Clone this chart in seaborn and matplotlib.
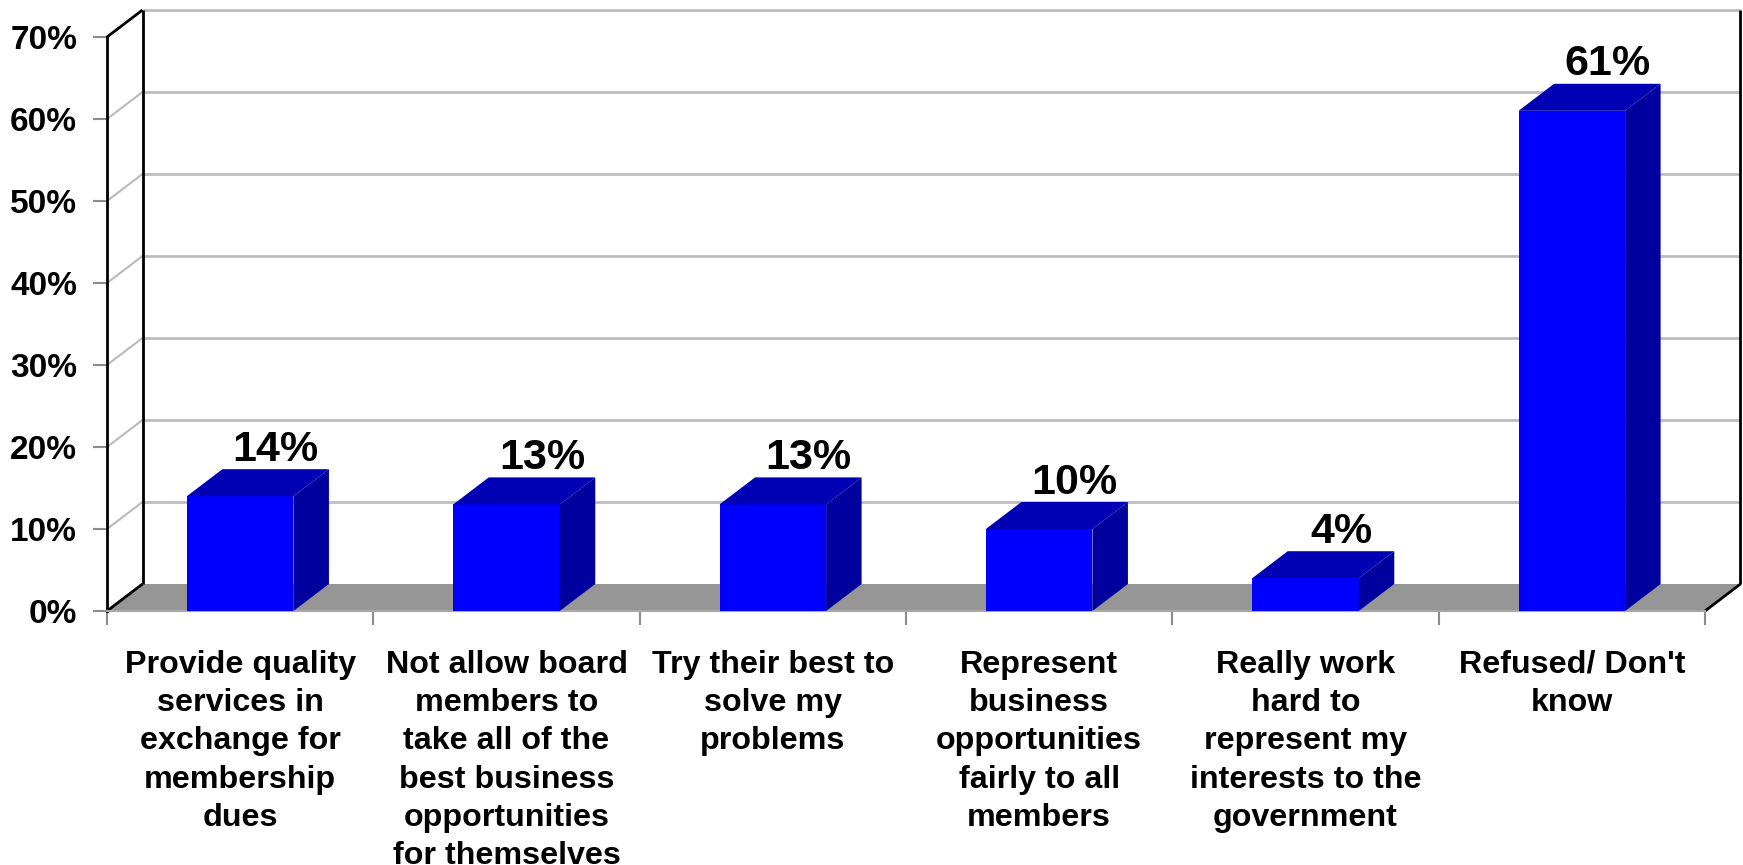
import matplotlib
matplotlib.use("Agg")
import matplotlib.pyplot as plt
from matplotlib.patches import Polygon
import pandas as pd
import seaborn as sns

# ---- data -------------------------------------------------------------
categories = [
    "Provide quality\nservices in\nexchange for\nmembership\ndues",
    "Not allow board\nmembers to\ntake all of the\nbest business\nopportunities\nfor themselves",
    "Try their best to\nsolve my\nproblems",
    "Represent\nbusiness\nopportunities\nfairly to all\nmembers",
    "Really work\nhard to\nrepresent my\ninterests to the\ngovernment",
    "Refused/ Don't\nknow",
]
values = [14, 13, 13, 10, 4, 61]
value_labels = ["14%", "13%", "13%", "10%", "4%", "61%"]
y_ticks = [0, 10, 20, 30, 40, 50, 60, 70]
y_tick_labels = ["0%", "10%", "20%", "30%", "40%", "50%", "60%", "70%"]

# ---- style ------------------------------------------------------------
sns.set_style("white")
plt.rcParams["font.family"] = ["Liberation Sans", "DejaVu Sans"]
plt.rcParams["font.weight"] = "bold"
plt.rcParams["text.color"] = "black"
plt.rcParams["xtick.labelcolor"] = "black"
plt.rcParams["ytick.labelcolor"] = "black"

FRONT = "#0000FF"
TOP = "#0000B4"
SIDE = "#00009E"
FLOOR = "#969696"
GRID = "#BDBDBD"

W, H, DPI = 1743, 865, 100
fig = plt.figure(figsize=(W / DPI, H / DPI), dpi=DPI)

# front plane of the 3-D box, in pixels of the figure
ax_left, ax_right, ax_top, ax_bottom = 107, 1705, 37, 611
ax = fig.add_axes([ax_left / W, (H - ax_bottom) / H,
                   (ax_right - ax_left) / W, (ax_bottom - ax_top) / H])

df = pd.DataFrame({"category": categories, "value": values})
sns.barplot(data=df, x="category", y="value", color=FRONT, saturation=1,
            width=0.4, linewidth=0, ax=ax, zorder=3)

n = len(categories)
ymax = y_ticks[-1]
ax.set_xlim(-0.5, n - 0.5)
ax.set_ylim(0, ymax)

# depth of the 3-D effect, converted from pixels into data units
depth_x_px, depth_y_px = 35.5, 27.0
DX = depth_x_px / ((ax_right - ax_left) / n)
DY = depth_y_px / ((ax_bottom - ax_top) / ymax)
x_lo, x_hi = -0.5, n - 0.5

line_kw = dict(clip_on=False, solid_capstyle="butt")

# back wall gridlines and their slanted continuation on the side wall
for t in y_ticks[1:]:
    ax.plot([x_lo + DX, x_hi + DX], [t + DY, t + DY], color=GRID, lw=2,
            zorder=0.5, **line_kw)
    ax.plot([x_lo, x_lo + DX], [t, t + DY],
            color="black" if t == ymax else GRID, lw=2 if t == ymax else 1.6,
            zorder=0.6, **line_kw)

# floor
ax.add_patch(Polygon([(x_lo, 0), (x_hi, 0), (x_hi + DX, DY), (x_lo + DX, DY)],
                     closed=True, facecolor=FLOOR, edgecolor="none",
                     zorder=1, clip_on=False))

# box edges
ax.plot([x_lo + DX, x_lo + DX], [DY, ymax + DY], color="black", lw=2, zorder=2, **line_kw)
ax.plot([x_lo, x_lo + DX], [0, DY], color="black", lw=2, zorder=2, **line_kw)
ax.plot([x_hi + DX, x_hi + DX], [DY, ymax + DY], color="black", lw=2, zorder=2, **line_kw)
ax.plot([x_hi, x_hi + DX], [0, DY], color="black", lw=2, zorder=2, **line_kw)

# top and side faces of each bar, plus its value label
for patch, lbl in zip(ax.patches, value_labels):
    x0, w, h = patch.get_x(), patch.get_width(), patch.get_height()
    ax.add_patch(Polygon([(x0, h), (x0 + w, h), (x0 + w + DX, h + DY), (x0 + DX, h + DY)],
                         closed=True, facecolor=TOP, edgecolor="none",
                         zorder=3, clip_on=False))
    ax.add_patch(Polygon([(x0 + w, 0), (x0 + w + DX, DY), (x0 + w + DX, h + DY), (x0 + w, h)],
                         closed=True, facecolor=SIDE, edgecolor="none",
                         zorder=3, clip_on=False))
    ax.annotate(lbl, (x0 + w / 2 + DX, h + DY), xytext=(0, 6),
                textcoords="offset points", ha="center", va="baseline",
                fontsize=31, fontweight="bold", color="black",
                annotation_clip=False, zorder=4)

# axes, ticks and labels
ax.set_xlabel("")
ax.set_ylabel("")
ax.set_yticks(y_ticks, y_tick_labels)
ax.tick_params(axis="y", length=10, width=1.5, color="#8C8C8C", pad=11.5,
               labelsize=24, left=True, labelcolor="black")
ax.set_xticks(range(n), categories)
ax.set_xticks([i - 0.5 for i in range(n + 1)], minor=True)
ax.tick_params(axis="x", which="major", length=0, pad=28, labelsize=23.2,
               labelcolor="black")
ax.tick_params(axis="x", which="minor", length=10, width=1.5, color="#8C8C8C",
               bottom=True)
for t in ax.get_xticklabels():
    t.set_linespacing(1.36)
    t.set_fontweight("bold")
    t.set_ha("center")
    t.set_va("top")
for t in ax.get_yticklabels():
    t.set_fontweight("bold")

for s in ("top", "right"):
    ax.spines[s].set_visible(False)
ax.spines["left"].set_color("black")
ax.spines["left"].set_linewidth(2)
ax.spines["bottom"].set_color("#A8A8A8")
ax.spines["bottom"].set_linewidth(1.5)
ax.grid(False)
ax.set_facecolor("none")
fig.patch.set_facecolor("white")

fig.savefig("out.png", dpi=DPI)
